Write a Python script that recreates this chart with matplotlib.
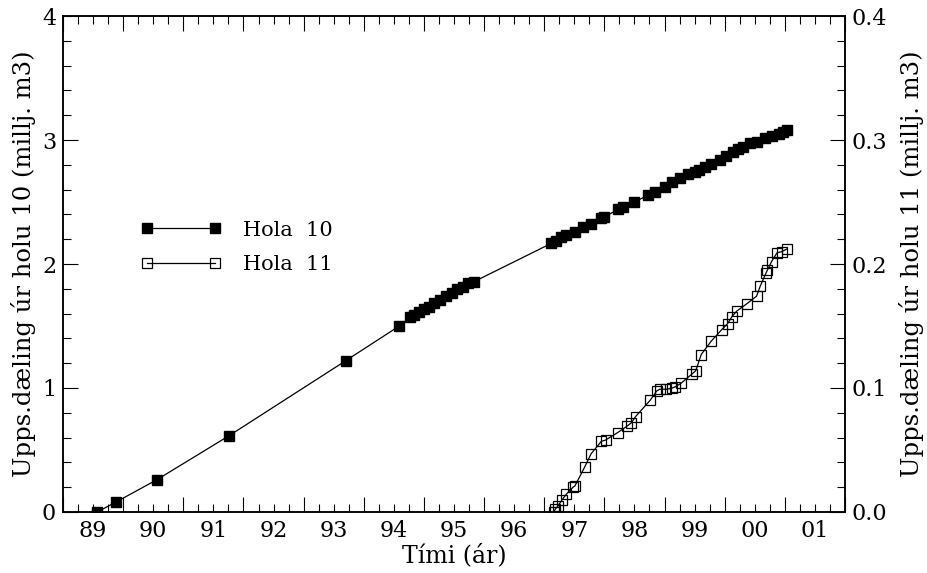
#!/usr/bin/env python3

import numpy as np
import matplotlib
matplotlib.use("Agg")
import matplotlib.pyplot as plt

# Hola 10 - cumulative production (millj. m3), time in decimal years
hola10_t = [1989.57, 1989.88, 1990.56, 1991.76, 1993.70,
            1994.59, 1994.77, 1994.84, 1994.92, 1995.00, 1995.09, 1995.17,
            1995.27, 1995.37, 1995.46, 1995.55, 1995.65, 1995.74, 1995.83,
            1997.12, 1997.20, 1997.28, 1997.37, 1997.51, 1997.65, 1997.78,
            1997.95, 1998.00, 1998.23, 1998.31, 1998.50, 1998.73, 1998.84,
            1999.00, 1999.12, 1999.26, 1999.39, 1999.50, 1999.58, 1999.67,
            1999.78, 1999.92, 2000.03, 2000.14, 2000.22, 2000.31, 2000.42,
            2000.53, 2000.67, 2000.78, 2000.90, 2000.97, 2001.03]
hola10_v = [0.00, 0.08, 0.26, 0.615, 1.22,
            1.50, 1.57, 1.59, 1.61, 1.635, 1.656, 1.683,
            1.71, 1.742, 1.764, 1.796, 1.817, 1.844, 1.857,
            2.167, 2.188, 2.215, 2.234, 2.26, 2.296, 2.323,
            2.368, 2.38, 2.44, 2.457, 2.50, 2.556, 2.583,
            2.62, 2.66, 2.69, 2.726, 2.744, 2.76, 2.78,
            2.804, 2.839, 2.87, 2.906, 2.925, 2.946, 2.973,
            2.986, 3.013, 3.03, 3.05, 3.065, 3.08]

# Hola 11 - cumulative production (millj. m3)
hola11_t = [1997.16, 1997.18, 1997.23, 1997.30, 1997.37, 1997.48, 1997.51,
            1997.67, 1997.78, 1997.95, 1998.02, 1998.22, 1998.37, 1998.45,
            1998.52, 1998.76, 1998.87, 1998.92, 1999.03, 1999.12, 1999.18,
            1999.28, 1999.45, 1999.52, 1999.61, 1999.78, 1999.95, 2000.05,
            2000.12, 2000.20, 2000.37, 2000.53, 2000.59, 2000.69, 2000.71,
            2000.78, 2000.87, 2000.95, 2001.03]
hola11_v = [0.000, 0.002, 0.005, 0.010, 0.0145, 0.020, 0.021,
            0.036, 0.047, 0.057, 0.058, 0.064, 0.069, 0.072,
            0.077, 0.090, 0.0976, 0.099, 0.099, 0.0998, 0.101,
            0.104, 0.111, 0.114, 0.127, 0.138, 0.147, 0.152,
            0.1575, 0.162, 0.168, 0.174, 0.182, 0.193, 0.195,
            0.202, 0.209, 0.210, 0.212]

years = list(range(1989, 2003))
year_labels = ['89', '90', '91', '92', '93', '94', '95', '96', '97',
               '98', '99', '00', '01']

plt.rcParams['font.family'] = 'DejaVu Serif'
plt.rcParams['font.size'] = 16

fig = plt.figure(figsize=(9.27, 5.73), dpi=100)
ax = fig.add_axes([0.068, 0.1065, 0.8435, 0.8655])
ax2 = ax.twinx()

l1, = ax.plot(hola10_t, hola10_v, color='black', lw=0.9, marker='s',
              ms=7.5, mfc='black', mec='black', label='Hola  10')
l2, = ax2.plot(hola11_t, hola11_v, color='black', lw=0.9, marker='s',
               ms=7.5, mfc='none', mec='black', mew=0.9, label='Hola  11')

ax.set_xlim(1989, 2002)
ax.set_ylim(0, 4)
ax2.set_ylim(0, 0.4)

# major ticks at year boundaries, year labels in the middle of each year
ax.set_xticks(years, labels=[''] * len(years))
minor_pos = []
minor_lab = []
for i, y in enumerate(years[:-1]):
    for q in (0.25, 0.5, 0.75):
        minor_pos.append(y + q)
        minor_lab.append(year_labels[i] if q == 0.5 else '')
ax.set_xticks(minor_pos, labels=minor_lab, minor=True)

ax.set_yticks([0, 1, 2, 3, 4])
ax.set_yticks(np.arange(0, 4.01, 0.2), minor=True)
ax2.set_yticks([0.0, 0.1, 0.2, 0.3, 0.4])
ax2.set_yticklabels(['0.0', '0.1', '0.2', '0.3', '0.4'])
ax2.set_yticks(np.arange(0, 0.401, 0.02), minor=True)

ax.tick_params(axis='x', which='both', direction='in', top=True,
               bottom=True, width=0.8)
ax.tick_params(axis='x', which='major', length=11)
ax.tick_params(axis='x', which='minor', length=6, pad=6)
ax.tick_params(axis='y', which='both', direction='in', left=True,
               right=False, width=0.8, pad=5)
ax.tick_params(axis='y', which='major', length=11)
ax.tick_params(axis='y', which='minor', length=6)
ax2.tick_params(axis='y', which='both', direction='in', width=0.8, pad=5)
ax2.tick_params(axis='y', which='major', length=11)
ax2.tick_params(axis='y', which='minor', length=6)

for a in (ax, ax2):
    for s in a.spines.values():
        s.set_linewidth(1.1)

ax.set_xlabel('Tími (ár)', fontsize=17, labelpad=1)
ax.set_ylabel('Upps.dæling úr holu 10 (millj. m3)', fontsize=17.5,
              labelpad=4)
ax2.set_ylabel('Upps.dæling úr holu 11 (millj. m3)', fontsize=17.5,
               rotation=90, labelpad=8)

ax2.legend(handles=[l1, l2], loc='upper left',
           bbox_to_anchor=(0.075, 0.625), frameon=False, numpoints=2,
           handlelength=3.9, handletextpad=1.0, labelspacing=0.75,
           fontsize=15)

fig.savefig('out.png', dpi=100)
